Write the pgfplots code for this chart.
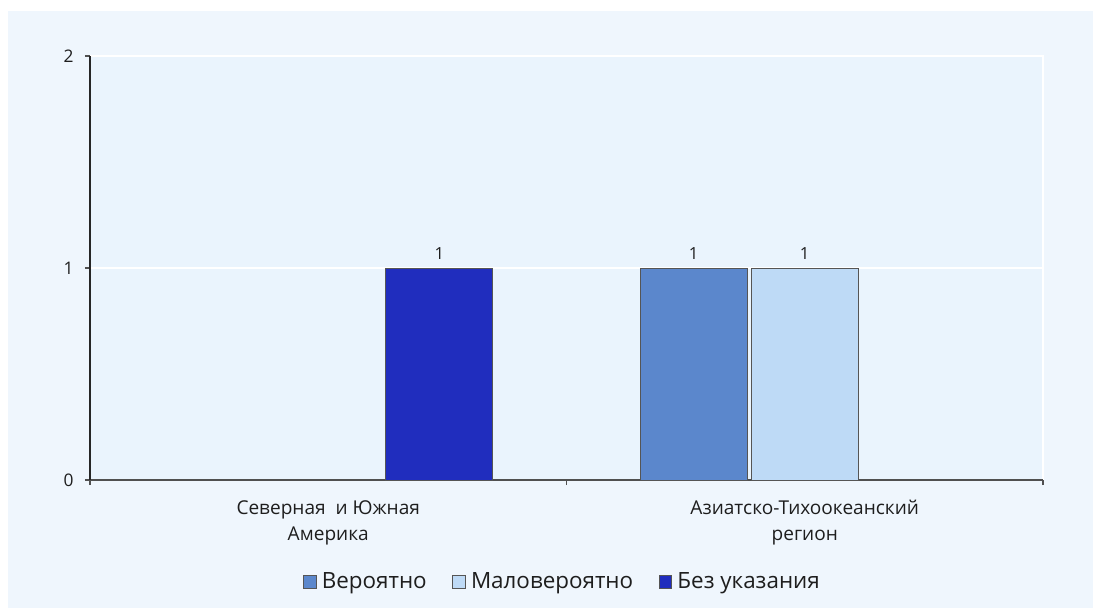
\documentclass[border=0pt]{standalone}
\usepackage{pgfplots}
\pgfplotsset{compat=1.18}
\usepackage{fontspec}
\setmainfont{Open Sans}

\definecolor{outerbg}{RGB}{239,246,253}
\definecolor{plotbg}{RGB}{234,244,253}
\definecolor{cProb}{RGB}{91,135,204}
\definecolor{cUnlik}{RGB}{190,218,246}
\definecolor{cNone}{RGB}{32,45,190}
\definecolor{barline}{RGB}{85,85,85}
\definecolor{axisgray}{RGB}{80,80,80}
\definecolor{txt}{RGB}{30,30,30}

\pgfplotsset{
  mybar/.style={
    ybar, bar width=0.2245, bar shift=0, draw=barline, line width=0.7pt,
    nodes near coords,
    every node near coord/.append style={font=\fontsize{12.5}{14}\selectfont, text=txt, yshift=3pt},
    legend image code/.code={\draw[##1, line width=0.6pt] (0pt,-4.8pt) rectangle (9.6pt,4.8pt);},
  },
}

\begin{document}
\begin{tikzpicture}
\fill[white] (0,0) rectangle (819.75pt,456pt);
\fill[outerbg] (6pt,0) rectangle (819.75pt,447.75pt);
\begin{axis}[
  at={(67.5pt,96pt)}, anchor=south west,
  scale only axis, width=714.75pt, height=318pt,
  axis background/.style={fill=plotbg, draw=white, line width=1pt},
  axis x line*=bottom, axis y line*=left,
  x axis line style={draw=axisgray, line width=1pt, -},
  y axis line style={draw=black!85, line width=0.9pt, -},
  xmin=-0.5, xmax=1.5,
  ymin=0, ymax=2,
  ytick={0,1,2},
  xtick={-0.5,0.5,1.5},
  x tick label as interval,
  xticklabels={{Северная \ и Южная\\Америка},{Азиатско-Тихоокеанский\\регион}},
  xticklabel style={align=center, font=\fontsize{14.3}{19.5}\selectfont, text=txt, yshift=-8pt},
  yticklabel style={font=\fontsize{13}{15}\selectfont, text=txt, xshift=-5pt},
  tick align=outside,
  major tick length=3.75pt,
  tick style={line width=0.9pt, draw=axisgray},
  ymajorgrids, grid style={white, line width=1pt},
  /pgf/number format/assume math mode=true,
  legend style={at={(0.496,-0.24)}, anchor=center, draw=none, fill=none,
    legend columns=-1, font=\fontsize{16.8}{19}\selectfont, text=txt,
    /tikz/every odd column/.append style={column sep=2pt},
    /tikz/every even column/.append style={column sep=17pt}},
  legend cell align=left,
]
% bars placed at group centre +/- slot offset (0.233)
\addplot[mybar, fill=cProb] coordinates {(0.767,1)};
\addlegendentry{Вероятно}
\addplot[mybar, fill=cUnlik] coordinates {(1,1)};
\addlegendentry{Маловероятно}
\addplot[mybar, fill=cNone] coordinates {(0.233,1)};
\addlegendentry{Без указания}
\end{axis}
\end{tikzpicture}
\end{document}
